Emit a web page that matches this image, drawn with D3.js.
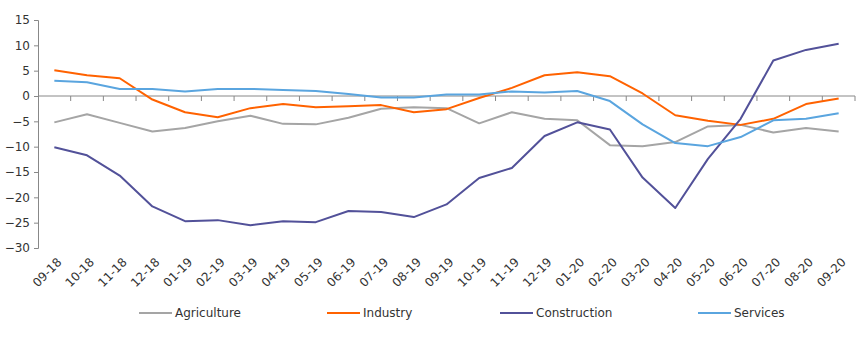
<!DOCTYPE html>
<html>
<head>
<meta charset="utf-8">
<script src="https://cdn.jsdelivr.net/npm/d3@7"></script>
<style>
  body { margin: 0; background: #fff; }
  svg text { font-family: "DejaVu Sans", Verdana, sans-serif; fill: #333; }
</style>
</head>
<body>
<svg id="chart" width="863" height="338"></svg>
<script>
// Months
const months = ["09-18","10-18","11-18","12-18","01-19","02-19","03-19","04-19","05-19","06-19",
  "07-19","08-19","09-19","10-19","11-19","12-19","01-20","02-20","03-20","04-20","05-20",
  "06-20","07-20","08-20","09-20"];

// Series values
const agriculture = [-5.2,-3.6,-5.3,-7.0,-6.3,-5.0,-3.9,-5.5,-5.6,-4.3,-2.5,-2.2,-2.4,-5.4,-3.2,
  -4.5,-4.8,-9.7,-9.9,-9.1,-6.0,-5.7,-7.2,-6.3,-7.0];
const industry = [5.1,4.1,3.5,-0.7,-3.2,-4.2,-2.4,-1.6,-2.2,-2.0,-1.8,-3.2,-2.6,-0.4,1.6,
  4.1,4.7,3.9,0.5,-3.8,-4.9,-5.7,-4.5,-1.6,-0.5];
const construction = [-10.1,-11.7,-15.7,-21.8,-24.7,-24.5,-25.5,-24.7,-24.9,-22.7,-22.9,-23.9,-21.4,
  -16.2,-14.2,-7.9,-5.2,-6.6,-16.1,-22.1,-12.4,-4.5,7.0,9.1,10.3];
const services = [3.0,2.7,1.4,1.4,0.9,1.4,1.4,1.2,1.0,0.4,-0.3,-0.3,0.3,0.3,0.9,
  0.7,1.0,-1.0,-5.6,-9.3,-9.9,-8.1,-4.8,-4.5,-3.4];

const seriesNames = ["Agriculture","Industry","Construction","Services"];
const seriesColors = ["#a5a5a5","#ff6200","#525199","#5aa5df"];
const seriesData = [agriculture, industry, construction, services];

const yTicks = [15,10,5,0,-5,-10,-15,-20,-25,-30];

const svg = d3.select("svg#chart");
const plotLeft = 38, plotRight = 855, plotTop = 20, plotBottom = 248;

// Scales
const x = d3.scaleBand().domain(months).range([plotLeft, plotRight]);
const y = d3.scaleLinear().domain([-30, 15]).range([plotBottom, plotTop]);

const axisColor = "#888";

// Y axis
const yAxis = svg.append("g")
  .attr("transform", "translate(" + plotLeft + ",0)")
  .call(d3.axisLeft(y).tickValues(yTicks).tickSize(4).tickPadding(4).tickFormat(d3.format("d")));
yAxis.select(".domain").attr("stroke", axisColor);
yAxis.selectAll(".tick line").attr("stroke", axisColor);
yAxis.selectAll("text").style("font-size", "12px").attr("fill", "#333");

// X axis on zero line
const xAxis = svg.append("g")
  .attr("transform", "translate(0," + y(0) + ")");
xAxis.append("line")
  .attr("x1", plotLeft).attr("x2", plotRight)
  .attr("stroke", axisColor);
xAxis.selectAll("line.tk")
  .data(months)
  .enter()
  .append("line")
    .attr("class", "tk")
    .attr("x1", d => x(d) + x.bandwidth())
    .attr("x2", d => x(d) + x.bandwidth())
    .attr("y1", 0).attr("y2", 5)
    .attr("stroke", axisColor);

// X labels rotated, below plot
svg.selectAll("text.xlab")
  .data(months)
  .enter()
  .append("text")
    .attr("class", "xlab")
    .attr("transform", d => "translate(" + (x(d) + x.bandwidth() / 2 + 5) + "," + (plotBottom + 12) + ") rotate(-45)")
    .attr("text-anchor", "end")
    .attr("dy", "0.35em")
    .style("font-size", "12px")
    .text(d => d);

// Lines
const line = d3.line()
  .x((d, i) => x(months[i]) + x.bandwidth() / 2)
  .y(d => y(d));

svg.selectAll("path.series")
  .data(seriesData)
  .enter()
  .append("path")
    .attr("class", "series")
    .attr("d", d => line(d))
    .attr("fill", "none")
    .attr("stroke", (d, i) => seriesColors[i])
    .attr("stroke-width", 2)
    .attr("stroke-linejoin", "round");

// Legend
const legendX = [139, 327, 500, 698];
const legend = svg.append("g").attr("transform", "translate(0,313)");
seriesNames.forEach((name, i) => {
  legend.append("line")
    .attr("x1", legendX[i]).attr("x2", legendX[i] + 33)
    .attr("y1", 0).attr("y2", 0)
    .attr("stroke", seriesColors[i])
    .attr("stroke-width", 2);
  legend.append("text")
    .attr("x", legendX[i] + 36)
    .attr("y", 0)
    .attr("dy", "0.35em")
    .style("font-size", "12px")
    .text(name);
});
</script>
</body>
</html>
